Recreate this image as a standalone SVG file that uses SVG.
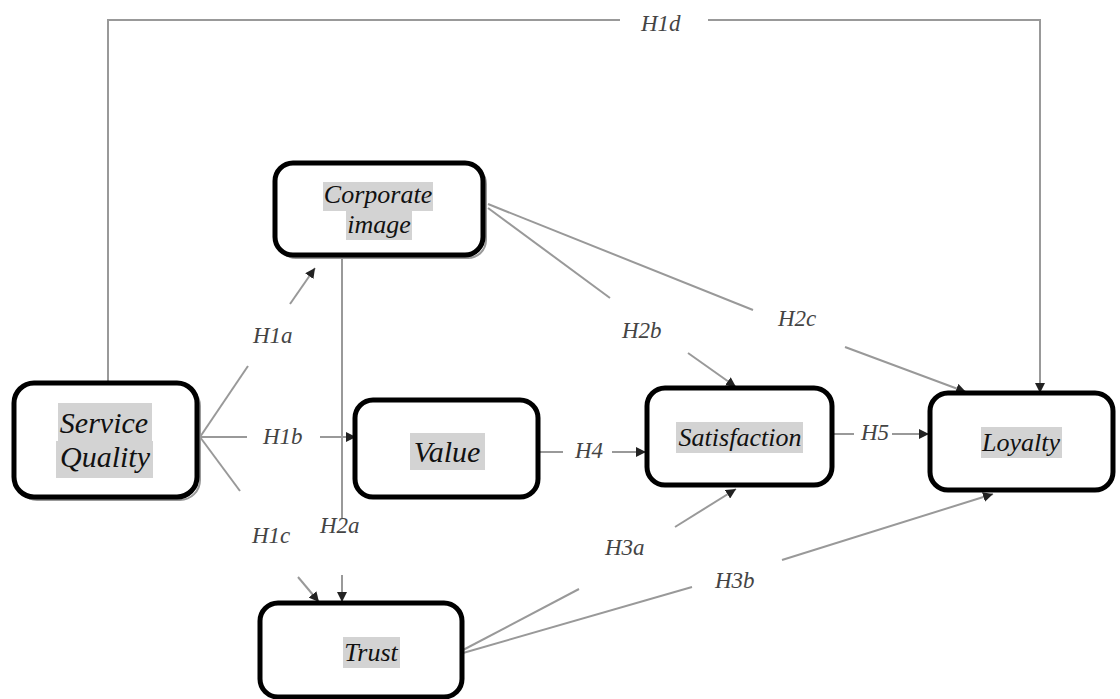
<svg xmlns="http://www.w3.org/2000/svg" width="1120" height="699" viewBox="0 0 1120 699">
<style>
.box{fill:#fff;stroke:#000;stroke-width:5}
.shadow{fill:none;stroke:#999;stroke-width:2}
.hl{fill:#d3d3d3}
.ln{stroke:#999;stroke-width:2;fill:none}
</style>
<defs>
<marker id="ar" viewBox="0 0 10 10" refX="10" refY="5" markerWidth="10" markerHeight="10" markerUnits="userSpaceOnUse" orient="auto">
<path d="M0,0 L10,5 L0,10 z" fill="#222"/>
</marker>
</defs>
<rect width="1120" height="699" fill="#fff"/>
<g id="connectors">
<polyline class="ln" points="108,383 108,20 620,20"/>
<polyline class="ln" points="708,20 1040,20 1040,393" marker-end="url(#ar)"/>
<line class="ln" x1="200" y1="437" x2="248" y2="366"/>
<line class="ln" x1="290" y1="304" x2="315" y2="268" marker-end="url(#ar)"/>
<line class="ln" x1="200" y1="437" x2="247" y2="437"/>
<line class="ln" x1="320" y1="437" x2="356" y2="437" marker-end="url(#ar)"/>
<line class="ln" x1="200" y1="437" x2="240" y2="491"/>
<line class="ln" x1="298" y1="577" x2="319" y2="602" marker-end="url(#ar)"/>
<line class="ln" x1="342" y1="258" x2="342" y2="519"/>
<line class="ln" x1="342" y1="575" x2="342" y2="602" marker-end="url(#ar)"/>
<line class="ln" x1="488" y1="208" x2="610" y2="298"/>
<line class="ln" x1="688" y1="353" x2="736" y2="387" marker-end="url(#ar)"/>
<line class="ln" x1="488" y1="204" x2="753" y2="310"/>
<line class="ln" x1="845" y1="347" x2="966" y2="392" marker-end="url(#ar)"/>
<line class="ln" x1="538" y1="452" x2="563" y2="452"/>
<line class="ln" x1="612" y1="452" x2="646" y2="452" marker-end="url(#ar)"/>
<line class="ln" x1="832" y1="434" x2="854" y2="434"/>
<line class="ln" x1="892" y1="434" x2="929" y2="434" marker-end="url(#ar)"/>
<line class="ln" x1="463" y1="650" x2="579" y2="589"/>
<line class="ln" x1="675" y1="527" x2="736" y2="489" marker-end="url(#ar)"/>
<line class="ln" x1="463" y1="653" x2="692" y2="587"/>
<line class="ln" x1="782" y1="560" x2="993" y2="494" marker-end="url(#ar)"/>
<text x="641" y="31" font-family="'Liberation Serif', serif" font-style="italic" font-size="23" fill="#444">H1d</text>
<text x="253" y="343" font-family="'Liberation Serif', serif" font-style="italic" font-size="23" fill="#444">H1a</text>
<text x="263" y="444" font-family="'Liberation Serif', serif" font-style="italic" font-size="23" fill="#444">H1b</text>
<text x="252" y="543" font-family="'Liberation Serif', serif" font-style="italic" font-size="23" fill="#444">H1c</text>
<text x="320" y="533" font-family="'Liberation Serif', serif" font-style="italic" font-size="23" fill="#444">H2a</text>
<text x="622" y="338" font-family="'Liberation Serif', serif" font-style="italic" font-size="23" fill="#444">H2b</text>
<text x="778" y="326" font-family="'Liberation Serif', serif" font-style="italic" font-size="23" fill="#444">H2c</text>
<text x="575" y="458" font-family="'Liberation Serif', serif" font-style="italic" font-size="23" fill="#444">H4</text>
<text x="861" y="440" font-family="'Liberation Serif', serif" font-style="italic" font-size="23" fill="#444">H5</text>
<text x="605" y="555" font-family="'Liberation Serif', serif" font-style="italic" font-size="23" fill="#444">H3a</text>
<text x="715" y="588" font-family="'Liberation Serif', serif" font-style="italic" font-size="23" fill="#444">H3b</text>
</g>
<g id="service-quality">
<rect class="shadow" x="17" y="386" width="183" height="114" rx="20"/>
<rect class="box" x="14" y="383" width="183" height="114" rx="20"/>
<rect class="hl" x="58" y="403" width="94" height="38"/>
<rect class="hl" x="56" y="441" width="97" height="37"/>
<text x="104" y="433" font-family="'Liberation Serif', serif" font-style="italic" font-size="30" fill="#111" text-anchor="middle">Service</text>
<text x="105" y="467" font-family="'Liberation Serif', serif" font-style="italic" font-size="30" fill="#111" text-anchor="middle">Quality</text>
</g>
<g id="corporate-image">
<rect class="shadow" x="278" y="166" width="208" height="92" rx="18"/>
<rect class="box" x="275" y="163" width="208" height="92" rx="18"/>
<rect class="hl" x="323" y="182" width="110" height="29"/>
<rect class="hl" x="346" y="211" width="66" height="29"/>
<text x="378" y="203" font-family="'Liberation Serif', serif" font-style="italic" font-size="26" fill="#111" text-anchor="middle">Corporate</text>
<text x="379" y="233" font-family="'Liberation Serif', serif" font-style="italic" font-size="26" fill="#111" text-anchor="middle">image</text>
</g>
<g id="value">
<rect class="box" x="355" y="400" width="183" height="97" rx="18"/>
<rect class="hl" x="410" y="433" width="75" height="37"/>
<text x="447" y="462" font-family="'Liberation Serif', serif" font-style="italic" font-size="30" fill="#111" text-anchor="middle">Value</text>
</g>
<g id="satisfaction">
<rect class="box" x="647" y="388" width="185" height="97" rx="18"/>
<rect class="hl" x="676" y="422" width="127" height="31"/>
<text x="740" y="446" font-family="'Liberation Serif', serif" font-style="italic" font-size="26" fill="#111" text-anchor="middle">Satisfaction</text>
</g>
<g id="loyalty">
<rect class="box" x="930" y="393" width="183" height="97" rx="18"/>
<rect class="hl" x="981" y="427" width="81" height="31"/>
<text x="1021" y="451" font-family="'Liberation Serif', serif" font-style="italic" font-size="26" fill="#111" text-anchor="middle">Loyalty</text>
</g>
<g id="trust">
<rect class="box" x="260" y="603" width="202" height="94" rx="18"/>
<rect class="hl" x="343" y="637" width="57" height="31"/>
<text x="371" y="661" font-family="'Liberation Serif', serif" font-style="italic" font-size="26" fill="#111" text-anchor="middle">Trust</text>
</g>
</svg>
